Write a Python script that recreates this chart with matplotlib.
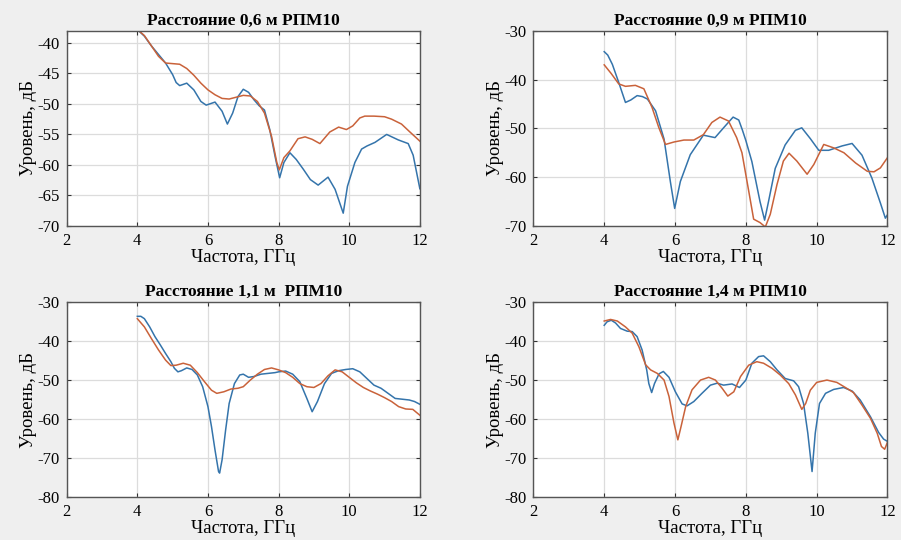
import numpy as np
import matplotlib.pyplot as plt

plt.rcParams['font.family'] = ['Liberation Serif', 'DejaVu Serif']
plt.rcParams['axes.unicode_minus'] = False

# Расстояние 0,6 м
f1_b = [4.0, 4.2, 4.4, 4.6, 4.8, 5.0, 5.1, 5.2, 5.4, 5.6, 5.8, 5.95, 6.2, 6.4, 6.55, 6.7,
        6.85, 7.0, 7.15, 7.3, 7.45, 7.6, 7.75, 7.9, 8.03, 8.15, 8.32, 8.5, 8.7, 8.9, 9.12,
        9.4, 9.6, 9.83, 9.95, 10.16, 10.35, 10.5, 10.73, 11.06, 11.39, 11.67, 11.81, 12.0]
l1_b = [-37.8, -38.9, -40.5, -41.9, -43.3, -45.2, -46.5, -47.0, -46.6, -47.7, -49.6, -50.2,
        -49.7, -51.2, -53.3, -51.5, -48.8, -47.6, -48.1, -49.3, -50.3, -51.0, -54.2, -58.6,
        -62.1, -59.6, -58.0, -59.1, -60.7, -62.4, -63.3, -62.0, -64.0, -67.9, -63.5, -59.6,
        -57.4, -56.9, -56.3, -55.0, -55.9, -56.5, -58.4, -63.9]
f1_o = [4.0, 4.2, 4.4, 4.6, 4.8, 5.0, 5.2, 5.4, 5.6, 5.8, 6.0, 6.2, 6.4, 6.6, 6.8, 7.0, 7.2,
        7.4, 7.6, 7.8, 7.95, 8.02, 8.15, 8.32, 8.55, 8.75, 8.95, 9.17, 9.45, 9.7, 9.92, 10.1,
        10.3, 10.44, 10.7, 11.0, 11.2, 11.48, 11.7, 12.0]
l1_o = [-37.8, -38.8, -40.5, -42.2, -43.3, -43.4, -43.5, -44.2, -45.3, -46.6, -47.7, -48.5,
        -49.1, -49.2, -48.9, -48.6, -48.7, -49.6, -51.5, -55.3, -59.6, -60.8, -58.8, -57.7,
        -55.7, -55.4, -55.8, -56.5, -54.6, -53.8, -54.2, -53.6, -52.3, -52.0, -52.0, -52.1,
        -52.5, -53.3, -54.5, -56.1]

# Расстояние 0,9 м
f2_b = [4.0, 4.1, 4.23, 4.41, 4.6, 4.75, 4.93, 5.08, 5.22, 5.45, 5.69, 5.87, 5.99, 6.15,
        6.43, 6.8, 7.13, 7.37, 7.64, 7.8, 7.9, 8.0, 8.17, 8.4, 8.53, 8.64, 8.83, 9.11, 9.4,
        9.58, 9.82, 10.06, 10.34, 10.72, 11.0, 11.28, 11.56, 11.8, 11.94, 12.0]
l2_b = [-34.3, -35.0, -36.9, -40.6, -44.7, -44.2, -43.3, -43.5, -44.0, -46.4, -52.2, -61.0,
        -66.4, -60.9, -55.4, -51.4, -51.9, -49.9, -47.7, -48.3, -50.3, -52.5, -56.8, -65.0,
        -68.8, -65.0, -58.2, -53.4, -50.4, -49.9, -52.1, -54.5, -54.5, -53.6, -53.1, -55.5,
        -60.2, -65.3, -68.4, -67.7]
f2_o = [4.0, 4.2, 4.41, 4.6, 4.88, 5.12, 5.35, 5.54, 5.73, 5.97, 6.25, 6.53, 6.8, 7.04, 7.27,
        7.51, 7.74, 7.89, 8.08, 8.22, 8.4, 8.55, 8.69, 8.88, 9.06, 9.22, 9.44, 9.73, 9.92,
        10.2, 10.48, 10.77, 11.1, 11.43, 11.62, 11.8, 12.0]
l2_o = [-37.0, -38.8, -40.9, -41.4, -41.2, -41.9, -45.7, -49.8, -53.3, -52.8, -52.4, -52.4,
        -51.3, -48.8, -47.7, -48.5, -51.9, -55.0, -62.8, -68.6, -69.3, -70.2, -67.6, -61.5,
        -56.7, -55.1, -56.7, -59.4, -57.4, -53.3, -54.0, -55.0, -57.1, -58.8, -58.9, -58.1,
        -56.0]

# Расстояние 1,1 м
f3_b = [4.0, 4.1, 4.2, 4.35, 4.5, 4.65, 4.8, 4.95, 5.05, 5.15, 5.25, 5.4, 5.55, 5.7, 5.85,
        6.0, 6.1, 6.2, 6.3, 6.33, 6.4, 6.5, 6.6, 6.75, 6.9, 7.0, 7.15, 7.3, 7.5, 7.7, 7.9,
        8.0, 8.2, 8.4, 8.6, 8.8, 8.95, 9.1, 9.3, 9.5, 9.7, 9.9, 10.1, 10.3, 10.5, 10.7, 10.9,
        11.1, 11.3, 11.5, 11.7, 11.85, 12.0]
l3_b = [-33.7, -33.7, -34.3, -36.4, -38.9, -41.0, -43.2, -45.3, -47.0, -47.9, -47.6, -46.9,
        -47.3, -48.7, -51.7, -56.8, -61.9, -67.9, -73.4, -73.8, -70.4, -62.8, -56.0, -50.9,
        -48.7, -48.5, -49.3, -49.1, -48.5, -48.3, -48.1, -47.9, -47.7, -48.5, -50.4, -54.7,
        -58.1, -55.5, -50.9, -48.3, -47.6, -47.3, -47.1, -47.9, -49.6, -51.3, -52.1, -53.4,
        -54.7, -54.9, -55.1, -55.5, -56.2]
f3_o = [4.0, 4.2, 4.4, 4.6, 4.8, 4.95, 5.1, 5.3, 5.5, 5.7, 5.9, 6.1, 6.25, 6.45, 6.65, 6.85,
        7.0, 7.2, 7.4, 7.6, 7.8, 8.0, 8.2, 8.4, 8.6, 8.8, 9.0, 9.2, 9.4, 9.6, 9.8, 10.0, 10.2,
        10.4, 10.6, 10.8, 11.0, 11.2, 11.4, 11.6, 11.8, 12.0]
l3_o = [-34.3, -36.4, -39.4, -42.3, -44.9, -46.3, -46.2, -45.7, -46.2, -48.1, -50.4, -52.6,
        -53.4, -53.0, -52.3, -52.1, -51.7, -50.0, -48.5, -47.3, -46.9, -47.4, -48.1, -49.3,
        -50.9, -51.7, -51.9, -50.9, -48.9, -47.4, -47.9, -49.3, -50.7, -51.9, -52.8, -53.6,
        -54.5, -55.5, -56.8, -57.4, -57.5, -59.0]

# Расстояние 1,4 м
f4_b = [4.0, 4.08, 4.2, 4.32, 4.46, 4.65, 4.79, 4.93, 5.07, 5.2, 5.26, 5.34, 5.42, 5.55,
        5.67, 5.83, 6.01, 6.2, 6.34, 6.53, 6.76, 7.0, 7.19, 7.37, 7.61, 7.82, 8.0, 8.17,
        8.36, 8.5, 8.69, 8.88, 9.11, 9.35, 9.49, 9.63, 9.75, 9.87, 9.96, 10.08, 10.25, 10.48,
        10.76, 11.0, 11.23, 11.52, 11.75, 11.89, 12.0]
l4_b = [-36.0, -35.1, -34.7, -35.4, -36.8, -37.5, -37.6, -38.9, -42.3, -47.4, -50.9, -53.2,
        -50.9, -48.4, -47.8, -49.3, -53.0, -56.1, -56.6, -55.5, -53.4, -51.3, -50.8, -51.3,
        -51.0, -51.9, -50.0, -45.7, -44.0, -43.8, -45.3, -47.4, -49.6, -50.2, -51.7, -56.0,
        -63.6, -73.4, -63.6, -56.0, -53.4, -52.4, -51.9, -52.8, -55.1, -59.4, -63.4, -65.1,
        -65.7]
f4_o = [4.0, 4.18, 4.37, 4.6, 4.79, 4.98, 5.17, 5.31, 5.5, 5.69, 5.83, 5.97, 6.08, 6.17,
        6.3, 6.48, 6.72, 6.95, 7.14, 7.33, 7.49, 7.66, 7.85, 8.08, 8.31, 8.5, 8.74, 8.97,
        9.21, 9.4, 9.58, 9.69, 9.82, 10.0, 10.29, 10.57, 10.81, 11.04, 11.28, 11.52, 11.71,
        11.83, 11.92, 12.0]
l4_o = [-34.9, -34.5, -34.9, -36.4, -38.0, -41.5, -46.1, -47.4, -48.3, -50.0, -54.2, -61.0,
        -65.3, -61.9, -56.8, -52.5, -50.0, -49.3, -50.0, -52.1, -54.1, -53.0, -49.1, -46.2,
        -45.3, -45.7, -47.0, -48.7, -50.9, -53.8, -57.5, -56.0, -52.6, -50.6, -50.0, -50.6,
        -51.9, -53.2, -56.4, -59.8, -63.6, -67.0, -67.7, -65.9]

titles = ['Расстояние 0,6 м РПМ10', 'Расстояние 0,9 м РПМ10',
          'Расстояние 1,1 м  РПМ10', 'Расстояние 1,4 м РПМ10']
ylims = [(-70, -38), (-70, -30), (-80, -30), (-80, -30)]
yticks = [np.arange(-70, -39, 5), np.arange(-70, -29, 10),
          np.arange(-80, -29, 10), np.arange(-80, -29, 10)]
data = [(f1_b, l1_b, f1_o, l1_o), (f2_b, l2_b, f2_o, l2_o),
        (f3_b, l3_b, f3_o, l3_o), (f4_b, l4_b, f4_o, l4_o)]

# позиции осей в долях фигуры
pos = [[0.074, 0.5815, 0.392, 0.3617], [0.592, 0.5815, 0.393, 0.3617],
       [0.074, 0.079, 0.392, 0.362], [0.592, 0.079, 0.393, 0.362]]

fig = plt.figure(figsize=(9.01, 5.4), dpi=100, facecolor='#efefef')
for i in range(4):
    ax = fig.add_axes(pos[i])
    fb, lb, fo, lo = data[i]
    ax.plot(fb, lb, color='#3474ab', lw=1.1)
    ax.plot(fo, lo, color='#c9623a', lw=1.1)
    ax.set_xlim(2, 12)
    ax.set_ylim(*ylims[i])
    ax.set_xticks([2, 4, 6, 8, 10, 12])
    ax.set_yticks(yticks[i])
    ax.grid(True, color='#dcdcdc', lw=0.9)
    ax.set_axisbelow(True)
    ax.tick_params(direction='in', length=3, labelsize=12, top=True, right=True,
                   color='#333333', pad=5)
    for s in ax.spines.values():
        s.set_color('#555555')
        s.set_linewidth(1.0)
    ax.set_title(titles[i], fontsize=12.5, fontweight='bold', pad=4)
    ax.set_xlabel('Частота, ГГц', fontsize=13.5, labelpad=0)
    ax.set_ylabel('Уровень, дБ', fontsize=13.5, labelpad=0.5)

fig.savefig('out.png', dpi=100, facecolor=fig.get_facecolor())
